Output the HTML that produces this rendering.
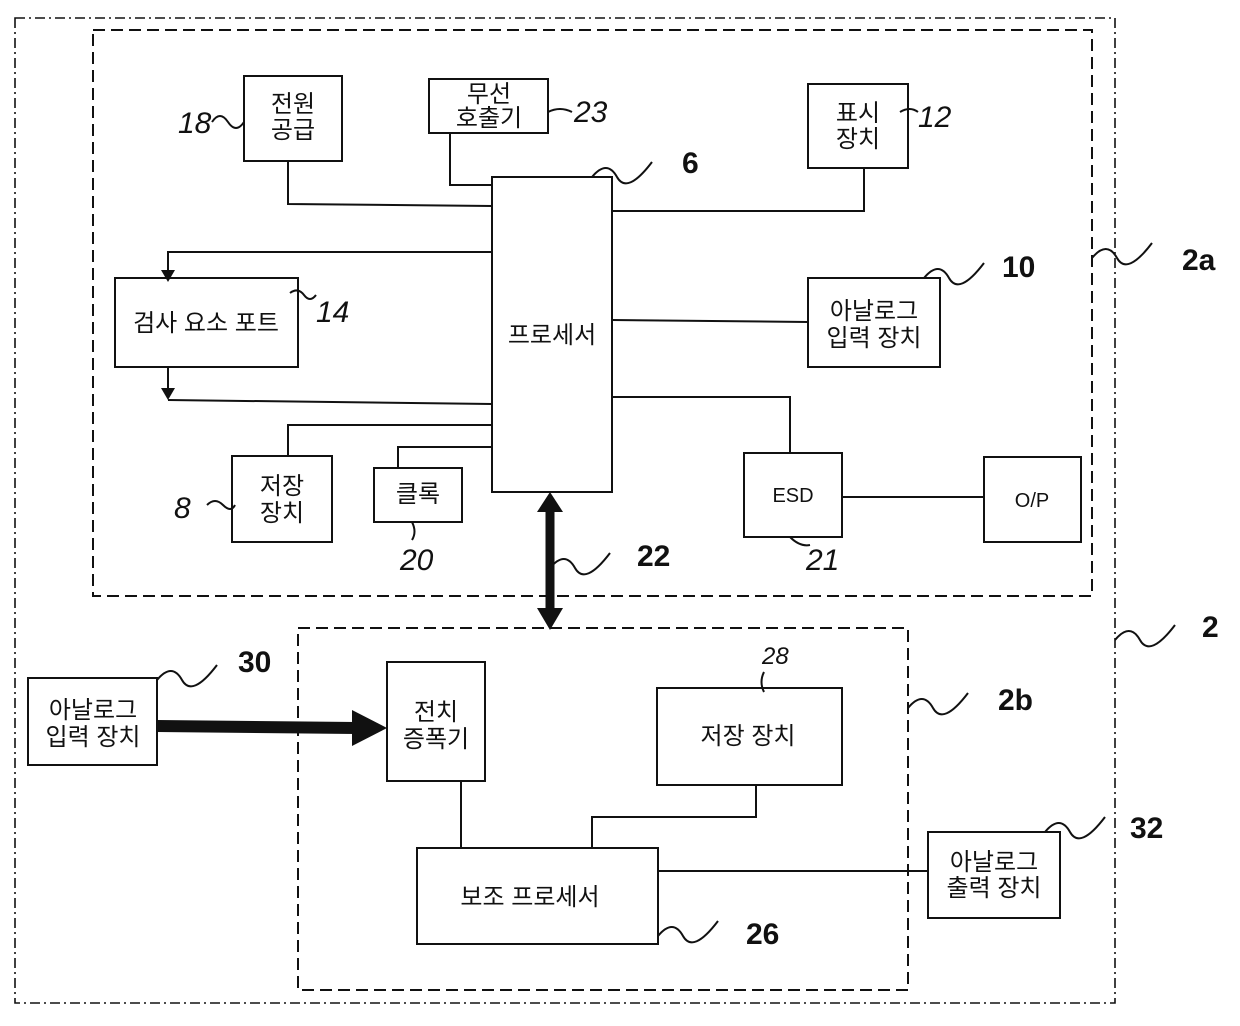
<!DOCTYPE html>
<html><head><meta charset="utf-8"><style>
html,body{margin:0;padding:0;background:#fff;}
svg text{font-family:"Liberation Sans","Noto Sans CJK KR",sans-serif;fill:#111;}
.k{font-size:24px;}
.n{font-size:30px;font-style:italic;}
.b{font-size:30px;font-weight:bold;}
</style></head><body>
<svg width="1240" height="1021" viewBox="0 0 1240 1021" xmlns="http://www.w3.org/2000/svg">
<g fill="none" stroke="#111" stroke-width="2">
<rect x="15" y="18" width="1100" height="985" stroke-dasharray="10,4,2,4" stroke-width="1.6"/>
<rect x="93" y="30" width="999" height="566" stroke-dasharray="12,6"/>
<rect x="298" y="628" width="610" height="362" stroke-dasharray="12,6"/>
<rect x="244" y="76" width="98" height="85"/>
<rect x="429" y="79" width="119" height="54"/>
<rect x="808" y="84" width="100" height="84"/>
<rect x="492" y="177" width="120" height="315"/>
<rect x="115" y="278" width="183" height="89"/>
<rect x="808" y="278" width="132" height="89"/>
<rect x="232" y="456" width="100" height="86"/>
<rect x="374" y="468" width="88" height="54"/>
<rect x="744" y="453" width="98" height="84"/>
<rect x="984" y="457" width="97" height="85"/>
<rect x="28" y="678" width="129" height="87"/>
<rect x="387" y="662" width="98" height="119"/>
<rect x="657" y="688" width="185" height="97"/>
<rect x="417" y="848" width="241" height="96"/>
<rect x="928" y="832" width="132" height="86"/>
<polyline points="288,161 288,204 492,206"/>
<polyline points="450,133 450,185 492,185"/>
<polyline points="864,168 864,211 612,211"/>
<polyline points="492,252 168,252 168,270"/>
<polyline points="168,367 168,392"/>
<polyline points="168,400 492,404"/>
<line x1="612" y1="320" x2="808" y2="322"/>
<polyline points="492,425 288,425 288,456"/>
<polyline points="492,447 398,447 398,468"/>
<polyline points="612,397 790,397 790,453"/>
<line x1="842" y1="497" x2="984" y2="497"/>
<line x1="461" y1="781" x2="461" y2="848"/>
<polyline points="756,785 756,817 592,817 592,848"/>
<line x1="658" y1="871" x2="928" y2="871"/>
<line x1="550" y1="512" x2="550" y2="612" stroke-width="9"/>
<line x1="157" y1="726" x2="356" y2="728" stroke-width="12"/>
<path d="M212,122 q8,-12 16,0 t16,0"/>
<path d="M548,112 q12,-6 24,0"/>
<path d="M900,112 q10,-6 18,0"/>
<path d="M592,177 q15,-18 25,0 t35,-15"/>
<path d="M290,293 q8,-6 14,2 t12,0"/>
<path d="M924,278 q15,-18 25,0 t35,-15"/>
<path d="M1092,258 q15,-18 25,0 t35,-15"/>
<path d="M207,505 q8,-8 16,0 t12,0"/>
<path d="M412,522 q5,10 0,18"/>
<path d="M790,537 q10,10 20,8"/>
<path d="M550,568 q15,-18 25,0 t35,-15"/>
<path d="M1115,640 q15,-18 25,0 t35,-15"/>
<path d="M157,680 q15,-18 25,0 t35,-15"/>
<path d="M908,708 q15,-18 25,0 t35,-15"/>
<path d="M764,672 q-5,10 0,20"/>
<path d="M658,936 q15,-18 25,0 t35,-15"/>
<path d="M1045,832 q15,-18 25,0 t35,-15"/>
</g>
<g fill="#111">
<polygon points="161,270 175,270 168,282"/>
<polygon points="161,388 175,388 168,400"/>
<polygon points="537,512 563,512 550,492"/>
<polygon points="537,608 563,608 550,630"/>
<polygon points="352,710 352,746 387,728"/>
</g>
<g class="k" text-anchor="middle">
<text x="293" y="112">전원</text><text x="293" y="138">공급</text>
<text x="489" y="102">무선</text><text x="489" y="126">호출기</text>
<text x="858" y="121">표시</text><text x="858" y="147">장치</text>
<text x="552" y="343">프로세서</text>
<text x="206" y="331">검사 요소 포트</text>
<text x="874" y="319">아날로그</text><text x="874" y="346">입력 장치</text>
<text x="282" y="494">저장</text><text x="282" y="521">장치</text>
<text x="418" y="502">클록</text>
<text x="793" y="502" style="font-size:20px">ESD</text>
<text x="1032" y="507" style="font-size:20px">O/P</text>
<text x="93" y="718">아날로그</text><text x="93" y="745">입력 장치</text>
<text x="436" y="720">전치</text><text x="436" y="747">증폭기</text>
<text x="748" y="744">저장 장치</text>
<text x="530" y="905">보조 프로세서</text>
<text x="994" y="870">아날로그</text><text x="994" y="896">출력 장치</text>
</g>
<g class="n">
<text x="178" y="133">18</text>
<text x="574" y="122">23</text>
<text x="918" y="127">12</text>
<text x="316" y="322">14</text>
<text x="174" y="518">8</text>
<text x="400" y="570">20</text>
<text x="806" y="570">21</text>
<text x="762" y="664" style="font-size:24px">28</text>
</g>
<g class="b">
<text x="682" y="173">6</text>
<text x="1002" y="277">10</text>
<text x="1182" y="270">2a</text>
<text x="637" y="566">22</text>
<text x="1202" y="637">2</text>
<text x="238" y="672">30</text>
<text x="998" y="710">2b</text>
<text x="746" y="944">26</text>
<text x="1130" y="838">32</text>
</g>
</svg>
</body></html>
